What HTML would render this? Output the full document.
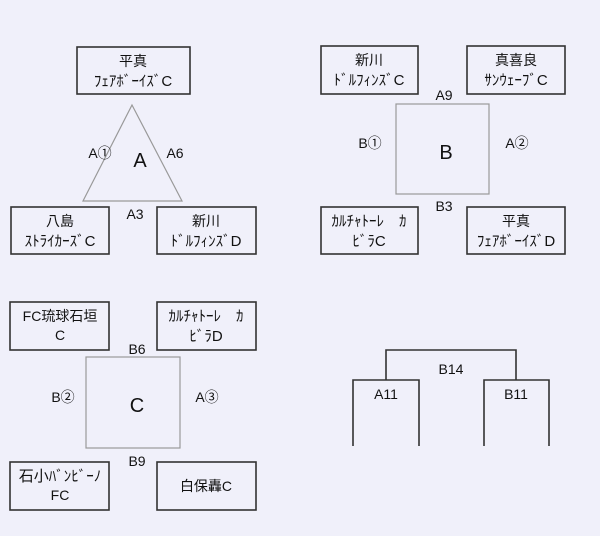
<!DOCTYPE html>
<html><head><meta charset="utf-8"><style>
body{margin:0;background:#f0f0fa;}
svg{display:block}
text{font-family:"Liberation Sans","Noto Sans CJK JP",sans-serif;fill:#111;text-anchor:middle}
.b{fill:none;stroke:#333;stroke-width:1.6}
.g{fill:none;stroke:#999;stroke-width:1.2}
.t{font-size:14px}
.s{font-size:15px}
.L{font-size:20px}
</style></head><body>
<svg width="600" height="536" viewBox="0 0 600 536">
<!-- A group -->
<rect class="b" x="77" y="47" width="113" height="47"/>
<text class="t" x="133" y="66">平真</text><text class="s" x="133" y="86">ﾌｪｱﾎﾞｰｲｽﾞC</text>
<polygon class="g" points="132,105 83,201 182,201"/>
<text class="t" x="100" y="158">A①</text><text class="L" x="140" y="167">A</text>
<text class="t" x="175" y="158">A6</text><text class="t" x="135" y="219">A3</text>
<rect class="b" x="11" y="207" width="98" height="47"/>
<text class="t" x="60" y="226">八島</text><text class="s" x="60" y="246">ｽﾄﾗｲｶｰｽﾞC</text>
<rect class="b" x="157" y="207" width="99" height="47"/>
<text class="t" x="206" y="226">新川</text><text class="s" x="206" y="246">ﾄﾞﾙﾌｨﾝｽﾞD</text>
<!-- B group -->
<rect class="b" x="321" y="46" width="97" height="48"/>
<text class="t" x="369" y="65">新川</text><text class="s" x="369" y="85">ﾄﾞﾙﾌｨﾝｽﾞC</text>
<rect class="b" x="467" y="46" width="98" height="48"/>
<text class="t" x="516" y="65">真喜良</text><text class="s" x="516" y="85">ｻﾝｳｪｰﾌﾞC</text>
<rect class="g" x="396" y="104" width="93" height="90"/>
<text class="t" x="444" y="100">A9</text><text class="t" x="370" y="148">B①</text>
<text class="L" x="446" y="159">B</text><text class="t" x="517" y="148">A②</text>
<text class="t" x="444" y="211">B3</text>
<rect class="b" x="321" y="207" width="97" height="47"/>
<text class="s" x="369" y="226">ｶﾙﾁｬﾄｰﾚ　ｶ</text><text class="s" x="369" y="246">ﾋﾞﾗC</text>
<rect class="b" x="467" y="207" width="98" height="47"/>
<text class="t" x="516" y="226">平真</text><text class="s" x="516" y="246">ﾌｪｱﾎﾞｰｲｽﾞD</text>
<!-- C group -->
<rect class="b" x="10" y="302" width="99" height="48"/>
<text class="t" x="60" y="321">FC琉球石垣</text><text class="t" x="60" y="340">C</text>
<rect class="b" x="157" y="302" width="99" height="48"/>
<text class="s" x="206" y="321">ｶﾙﾁｬﾄｰﾚ　ｶ</text><text class="s" x="206" y="341">ﾋﾞﾗD</text>
<rect class="g" x="86" y="357" width="94" height="91"/>
<text class="t" x="137" y="354">B6</text><text class="t" x="63" y="402">B②</text>
<text class="L" x="137" y="412">C</text><text class="t" x="207" y="402">A③</text>
<text class="t" x="137" y="466">B9</text>
<rect class="b" x="10" y="462" width="99" height="48"/>
<text class="s" x="60" y="481">石小ﾊﾞﾝﾋﾞｰﾉ</text><text class="t" x="60" y="500">FC</text>
<rect class="b" x="157" y="462" width="99" height="48"/>
<text class="t" x="206" y="491">白保轟C</text>
<!-- bracket -->
<polyline class="b" points="386,380 386,350 516,350 516,380"/>
<polyline class="b" points="353,446 353,380 419,380 419,446"/>
<polyline class="b" points="484,446 484,380 549,380 549,446"/>
<text class="t" x="451" y="374">B14</text>
<text class="t" x="386" y="399">A11</text><text class="t" x="516" y="399">B11</text>
</svg>
</body></html>
